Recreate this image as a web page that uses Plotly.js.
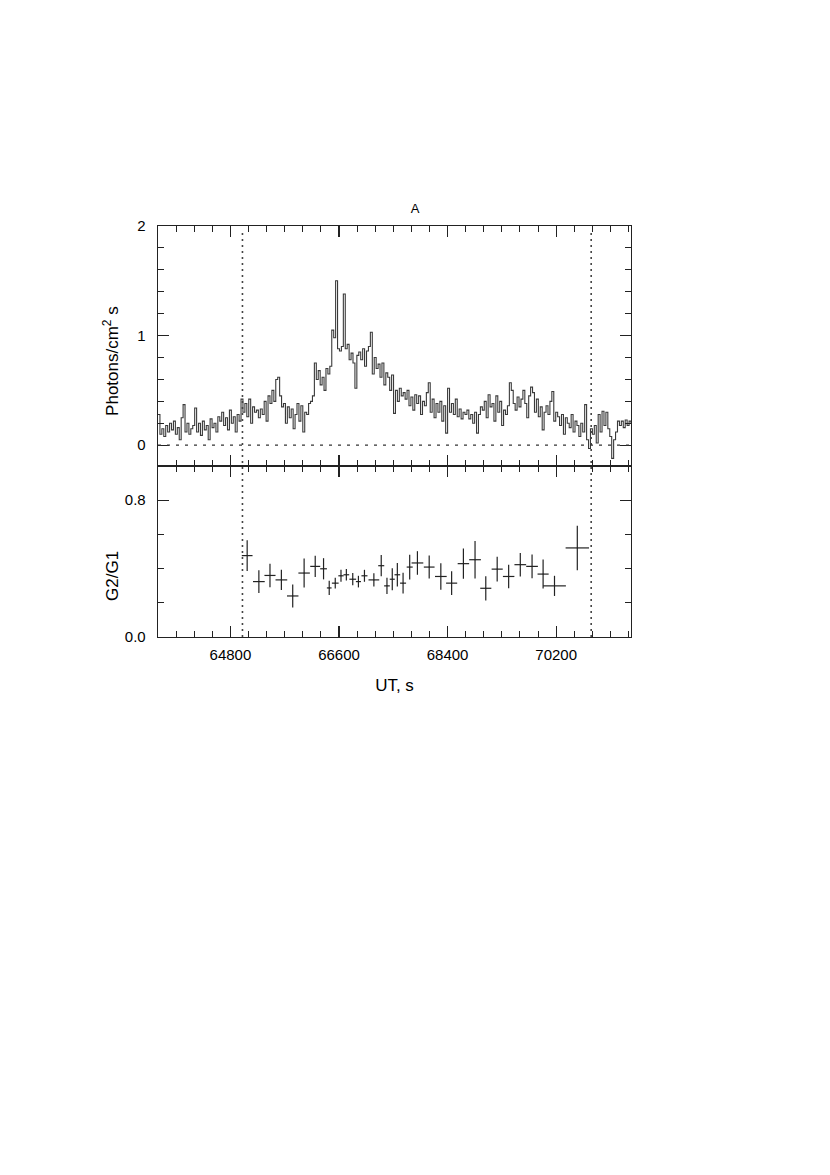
<!doctype html>
<html><head><meta charset="utf-8" />
<script src="https://cdn.plot.ly/plotly-3.0.1.min.js"></script>
<style>
  html, body { margin:0; padding:0; background:#fff; }
  #chart { width:830px; height:1175px; }
</style></head>
<body>
<div id="chart"></div>
<script>
// light curve: bins start at BIN_START, width BIN_WIDTH (s), flux in photons/cm^2 s
const BIN_START = 63600;
const BIN_WIDTH = 32;
const flux = [
  0.28, 0.10, 0.15, 0.08, 0.18, 0.12, 0.20, 0.14, 0.22, 0.10,
  0.16, 0.05, 0.25, 0.37, 0.12, 0.20, 0.10, 0.15, 0.18, 0.34,
  0.12, 0.20, 0.09, 0.22, 0.14, 0.18, 0.05, 0.24, 0.16, 0.20,
  0.12, 0.26, 0.22, 0.30, 0.18, 0.25, 0.14, 0.32, 0.20, 0.26,
  0.12, 0.28, 0.22, 0.42, 0.30, 0.38, 0.26, 0.42, 0.20, 0.35,
  0.30, 0.32, 0.25, 0.33, 0.28, 0.40, 0.22, 0.45, 0.38, 0.50,
  0.40, 0.60, 0.62, 0.45, 0.35, 0.38, 0.20, 0.35, 0.25, 0.33,
  0.15, 0.28, 0.38, 0.22, 0.36, 0.12, 0.30, 0.28, 0.38, 0.40,
  0.45, 0.75, 0.60, 0.68, 0.55, 0.62, 0.50, 0.70, 0.65, 0.72,
  1.05, 0.98, 1.50, 0.88, 0.86, 0.90, 1.38, 0.88, 0.92, 0.78,
  0.84, 0.75, 0.52, 0.82, 0.85, 0.78, 0.88, 0.72, 0.86, 0.90,
  1.03, 0.65, 0.80, 0.70, 0.74, 0.62, 0.75, 0.55, 0.66, 0.62,
  0.50, 0.64, 0.29, 0.50, 0.40, 0.52, 0.45, 0.48, 0.42, 0.50,
  0.36, 0.44, 0.32, 0.46, 0.38, 0.45, 0.28, 0.40, 0.36, 0.48,
  0.57, 0.30, 0.42, 0.25, 0.38, 0.30, 0.40, 0.22, 0.36, 0.11,
  0.52, 0.30, 0.38, 0.28, 0.42, 0.26, 0.33, 0.24, 0.30, 0.28,
  0.32, 0.24, 0.28, 0.20, 0.30, 0.11, 0.28, 0.35, 0.32, 0.40,
  0.25, 0.46, 0.35, 0.38, 0.22, 0.45, 0.30, 0.40, 0.18, 0.32,
  0.28, 0.36, 0.57, 0.50, 0.38, 0.32, 0.44, 0.35, 0.42, 0.50,
  0.38, 0.25, 0.45, 0.53, 0.48, 0.30, 0.42, 0.26, 0.35, 0.14,
  0.30, 0.36, 0.28, 0.40, 0.49, 0.22, 0.30, 0.26, 0.18, 0.28,
  0.10, 0.25, 0.20, 0.16, 0.28, 0.12, 0.22, 0.18, 0.08, 0.20,
  0.12, 0.37, 0.05, -0.03, 0.15, 0.10, 0.18, 0.02, 0.28, 0.12,
  0.31, 0.18, 0.30, 0.15, 0.08, -0.12, 0.05, 0.12, 0.22, 0.18,
  0.22, 0.16, 0.23, 0.18, 0.22, 0.20
];

// hardness ratio G2/G1
const ratioT    = [65078, 65272, 65456, 65645, 65833, 66022, 66206, 66344, 66438, 66538,
                   66633, 66722, 66828, 66922, 67022, 67178, 67300, 67395, 67483, 67567,
                   67662, 67772, 67900, 68095, 68288, 68467, 68662, 68855, 69033, 69222,
                   69412, 69605, 69800, 69983, 70172, 70550];
const ratioTErr = [89, 97, 92, 97, 95, 95, 83, 56, 39, 56,
                   44, 47, 56, 42, 50, 89, 50, 47, 42, 47,
                   50, 50, 97, 89, 97, 92, 95, 97, 92, 92,
                   95, 97, 97, 92, 189, 194];
const ratio     = [0.476, 0.324, 0.360, 0.334, 0.240, 0.374, 0.413, 0.399, 0.287, 0.315,
                   0.358, 0.364, 0.338, 0.324, 0.358, 0.334, 0.417, 0.299, 0.338, 0.364,
                   0.315, 0.409, 0.433, 0.409, 0.354, 0.315, 0.429, 0.452, 0.285, 0.397,
                   0.354, 0.423, 0.413, 0.368, 0.299, 0.521];
const ratioErr  = [0.090, 0.067, 0.069, 0.059, 0.067, 0.085, 0.062, 0.062, 0.042, 0.032,
                   0.035, 0.033, 0.036, 0.034, 0.035, 0.039, 0.062, 0.047, 0.064, 0.069,
                   0.061, 0.072, 0.069, 0.067, 0.077, 0.069, 0.088, 0.110, 0.071, 0.072,
                   0.069, 0.069, 0.069, 0.085, 0.059, 0.130];

// interval markers (dotted verticals)
const intervalEdges = [65000, 70780];
const X_RANGE = [63600, 71440];

const lcT = flux.map((_, i) => BIN_START + i * BIN_WIDTH).concat([BIN_START + flux.length * BIN_WIDTH]);
const lcF = flux.concat([flux[flux.length - 1]]);

const FONT = 'Arial, "Liberation Sans", Helvetica, sans-serif';
const INK = '#222';

const xCommon = {
  range: X_RANGE, dtick: 1800, tick0: 64800,
  ticks: 'inside', ticklen: 11, tickwidth: 1.2, tickcolor: INK,
  minor: { dtick: 300, tick0: 64800, ticks: 'inside', ticklen: 6, tickwidth: 1, tickcolor: INK },
  showline: true, linecolor: INK, linewidth: 1.3, mirror: 'ticks',
  showgrid: false, zeroline: false,
};
const yCommon = {
  ticks: 'inside', ticklen: 11, tickwidth: 1.2, tickcolor: INK,
  showline: true, linecolor: INK, linewidth: 1.3, mirror: 'ticks',
  showgrid: false, zeroline: false, ticklabelstandoff: 8,
  tickfont: { family: FONT, size: 15 },
};

const traces = [
  {
    type: 'scatter', mode: 'lines', x: lcT, y: lcF, xaxis: 'x2', yaxis: 'y2',
    line: { shape: 'hv', color: '#3a3a3a', width: 1.1 }, hoverinfo: 'skip',
  },
  {
    type: 'scatter', mode: 'markers', x: ratioT, y: ratio, xaxis: 'x', yaxis: 'y',
    marker: { size: 1, color: INK },
    error_x: { type: 'data', array: ratioTErr, color: INK, thickness: 1.2, width: 0 },
    error_y: { type: 'data', array: ratioErr, color: INK, thickness: 1.2, width: 0 },
  },
];

const shapes = intervalEdges.map((t) => ({
  type: 'line', xref: 'x', yref: 'paper', x0: t, x1: t, y0: 0, y1: 0.985,
  line: { color: '#444', width: 1.6, dash: '2px,4px' },
}));
shapes.push({
  type: 'line', xref: 'paper', yref: 'y2', x0: 0, x1: 1, y0: 0, y1: 0,
  line: { color: '#333', width: 1.2, dash: '3px,6px' },
});

const layout = {
  width: 830, height: 1175,
  paper_bgcolor: '#fff', plot_bgcolor: '#fff',
  font: { family: FONT, size: 15, color: '#000' },
  showlegend: false,
  margin: { l: 158, r: 199, t: 226, b: 538 },
  title: { text: 'A', x: 0.5, xanchor: 'center', y: 1 - 208 / 1175, yanchor: 'middle',
           font: { family: FONT, size: 13, color: '#000' } },
  xaxis: Object.assign({}, xCommon, {
    anchor: 'y', tickformat: 'd', ticklabelstandoff: 4,
    tickfont: { family: FONT, size: 15 },
    title: { text: 'UT, s', font: { family: FONT, size: 17 }, standoff: 16 },
  }),
  xaxis2: Object.assign({}, xCommon, { anchor: 'y2', matches: 'x', showticklabels: false }),
  yaxis: Object.assign({}, yCommon, {
    domain: [0, 0.416], range: [0, 1.0], anchor: 'x',
    tick0: 0, dtick: 0.8, tickformat: '.1f',
    minor: { dtick: 0.2, tick0: 0, ticks: 'inside', ticklen: 6, tickwidth: 1, tickcolor: INK },
  }),
  yaxis2: Object.assign({}, yCommon, {
    domain: [0.416, 1], range: [-0.19, 2.0], anchor: 'x2',
    tick0: 0, dtick: 1,
    minor: { dtick: 0.2, tick0: 0, ticks: 'inside', ticklen: 6, tickwidth: 1, tickcolor: INK },
  }),
  annotations: [
    { text: 'Photons/cm<sup>2</sup> s', xref: 'paper', yref: 'paper',
      x: -(158 - 111) / 472, y: (637 - 361) / 411, xanchor: 'center', yanchor: 'middle',
      textangle: -90, showarrow: false, font: { family: FONT, size: 17 } },
    { text: 'G2/G1', xref: 'paper', yref: 'paper',
      x: -(158 - 112) / 472, y: (637 - 576) / 411, xanchor: 'center', yanchor: 'middle',
      textangle: -90, showarrow: false, font: { family: FONT, size: 17 } },
  ],
  shapes,
};

Plotly.newPlot('chart', traces, layout, { staticPlot: true, displayModeBar: false });
</script>
</body></html>
